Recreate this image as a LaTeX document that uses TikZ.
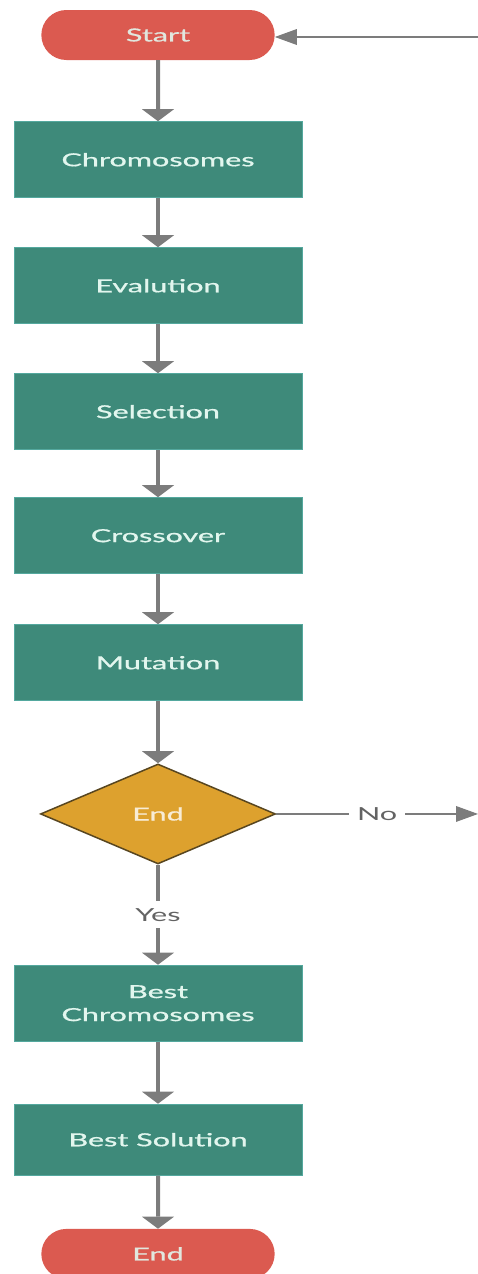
\documentclass[tikz,border=0pt]{standalone}
\usepackage{graphicx}
\usepackage{fontspec}
\setmainfont{Lato}
\newfontfamily\medfont{Lato}[FakeBold=0.7]
\usetikzlibrary{arrows.meta,positioning,shapes.geometric,shapes.misc}
\definecolor{termred}{RGB}{219,90,80}
\definecolor{boxteal}{RGB}{62,138,122}
\definecolor{boxedge}{RGB}{84,168,158}
\definecolor{decgold}{RGB}{221,161,46}
\definecolor{decedge}{RGB}{88,70,32}
\definecolor{linegray}{RGB}{124,124,124}
\definecolor{txtwhite}{RGB}{226,246,238}
\newcommand\wtxt[1]{\scalebox{1.7}[1]{#1}}

\begin{document}
\begin{tikzpicture}[x=1pt,y=1pt,->,>={Triangle[width=32pt,length=12pt,line width=0pt]},node distance=49pt,
    flow/.style={color=linegray,line width=4pt},
    thinflow/.style={color=linegray,line width=2.5pt,-{Triangle[width=16pt,length=22pt,line width=0pt]}},
    term/.style={rounded rectangle,fill=termred,minimum width=240pt,minimum height=50pt,
      text=txtwhite!90!termred,font=\medfont\fontsize{18}{23}\selectfont},
    stepbox/.style={rectangle,fill=boxteal,draw=boxedge,line width=1pt,minimum width=288pt,
      minimum height=76pt,align=center,text=txtwhite,font=\medfont\fontsize{18}{23}\selectfont},
    decide/.style={diamond,fill=decgold,draw=decedge,line width=1.5pt,aspect=2.35,inner sep=0pt,
      minimum width=235pt,minimum height=100pt,text=decgold!20!white,font=\medfont\fontsize{18}{23}\selectfont},
    lbl/.style={fill=white,text=linegray!80!black,inner xsep=8pt,inner ysep=7pt,
      font=\fontsize{18}{23}\selectfont}]

  \useasboundingbox (0,0) rectangle (478,-1274);

  \node[term] (start) at (158,-35) {\wtxt{Start}};
  \node[stepbox] (chrom) [below=61pt of start] {\wtxt{Chromosomes}};
  \node[stepbox] (eval) [below=49pt of chrom] {\wtxt{Evalution}};
  \node[stepbox] (sel) [below=49pt of eval] {\wtxt{Selection}};
  \node[stepbox] (cross) [below=47pt of sel] {\wtxt{Crossover}};
  \node[stepbox] (mut) [below=50pt of cross] {\wtxt{Mutation}};
  \node[decide] (dec) [below=62pt of mut] {\wtxt{End}};
  \node[stepbox] (bestc) [below=100pt of dec] {\wtxt{Best}\\\wtxt{Chromosomes}};
  \node[stepbox,minimum height=71pt] (bests) [below=62pt of bestc] {\wtxt{Best Solution}};
  \node[term] (endt) [below=53pt of bests] {\wtxt{End}};

  \coordinate (back) at (478,-37);
  \coordinate (noend) at (dec.east -| back);

  \path[flow]
    (start) edge (chrom)
    (chrom) edge (eval)
    (eval) edge (sel)
    (sel) edge (cross)
    (cross) edge (mut)
    (mut) edge (dec)
    (dec) edge node[lbl] {\wtxt{Yes}} (bestc)
    (bestc) edge (bests)
    (bests) edge (endt);

  \draw[thinflow] (dec) -- node[lbl] {\wtxt{No}} (noend);
  \draw[thinflow] (back) -- (back -| start.east);

\end{tikzpicture}
\end{document}
